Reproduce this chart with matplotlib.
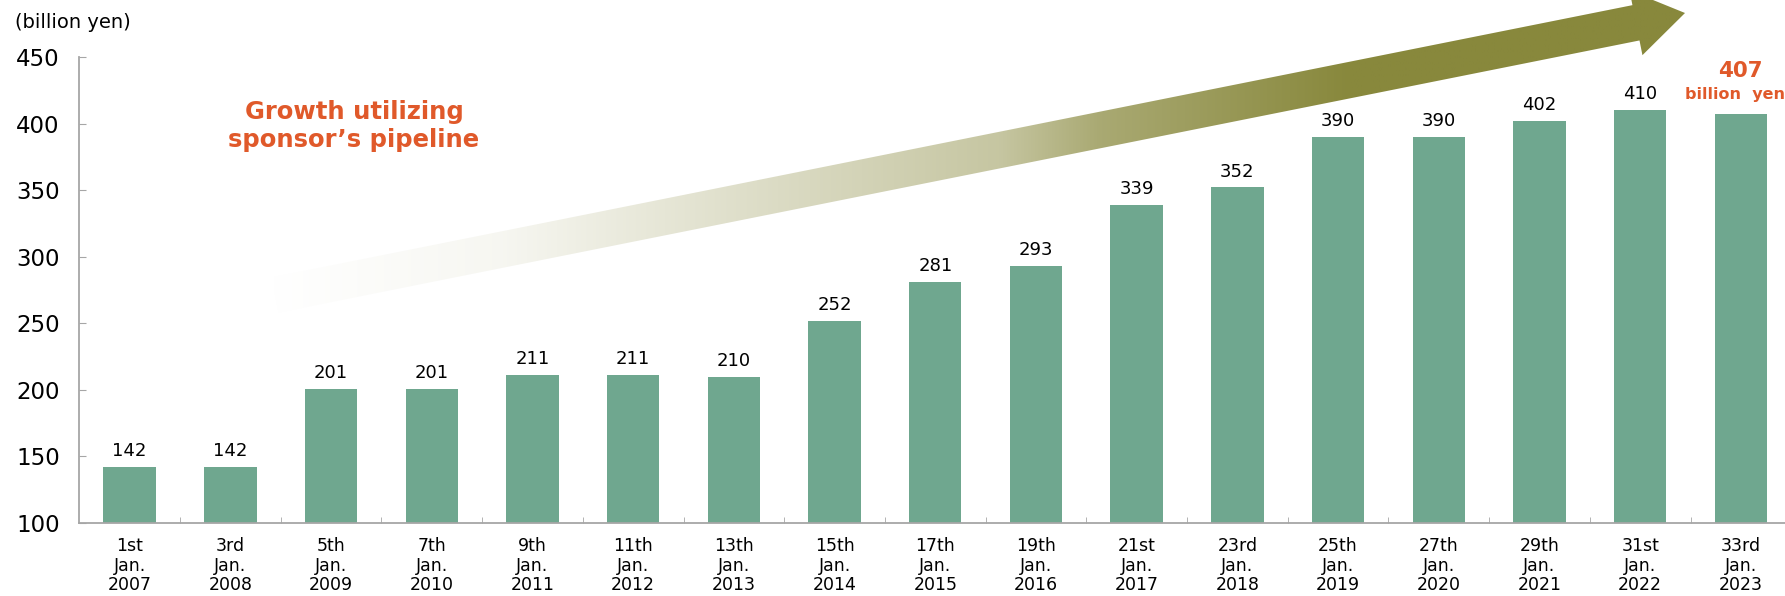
import numpy as np
import matplotlib.pyplot as plt
from matplotlib.patches import Polygon

# data
periods = ["1st", "3rd", "5th", "7th", "9th", "11th", "13th", "15th", "17th",
           "19th", "21st", "23rd", "25th", "27th", "29th", "31st", "33rd"]
years = [2007, 2008, 2009, 2010, 2011, 2012, 2013, 2014, 2015,
         2016, 2017, 2018, 2019, 2020, 2021, 2022, 2023]
assets = [142, 142, 201, 201, 211, 211, 210, 252, 281,
          293, 339, 352, 390, 390, 402, 410, 407]

labels = [f"{p}\nJan.\n{y}" for p, y in zip(periods, years)]

W, H = 1785, 596
BAR = "#6fa78f"
ORANGE = "#e0592a"
GREY = "#a6a6a6"

fig = plt.figure(figsize=(W / 100, H / 100), dpi=100)

# background layer in pixel coords for the gradient arrow
bg = fig.add_axes([0, 0, 1, 1], zorder=0)
bg.set_xlim(0, W)
bg.set_ylim(H, 0)
bg.axis("off")

tail = np.array([275.0, 295.0])
tip = np.array([1685.0, 13.0])
u = (tip - tail) / np.linalg.norm(tip - tail)
n = np.array([-u[1], u[0]])
hw, hh, hl = 18, 33, 50
base = tip - u * hl
poly = [tail + n * hw, base + n * hw, base + n * hh, tip,
        base - n * hh, base - n * hw, tail - n * hw]
arrow = Polygon(poly, closed=True, facecolor="none", edgecolor="none",
                transform=bg.transData)
bg.add_patch(arrow)

# colour ramp along the arrow (white -> olive)
xs = np.linspace(250, 1710, 700)
t = np.interp(xs, [275, 500, 700, 1000, 1100, 1350], [0.0, 0.07, 0.24, 0.48, 0.72, 1.0])
white = np.array([1.0, 1.0, 1.0])
olive = np.array([136, 136, 60]) / 255
img = (white[None, :] * (1 - t[:, None]) + olive[None, :] * t[:, None])[None, :, :]
im = bg.imshow(img, extent=(250, 1710, 360, -30), aspect="auto", interpolation="bilinear")
im.set_clip_path(arrow)

# main chart
ax = fig.add_axes([79.3 / W, 73 / H, (W - 79.3) / W, 466 / H], zorder=1)
ax.patch.set_alpha(0)
x = np.arange(len(assets))
ax.bar(x, assets, width=0.52, color=BAR, zorder=2)

for i, v in enumerate(assets[:-1]):
    ax.annotate(str(v), (i, v), xytext=(0, 5), textcoords="offset points",
                ha="center", va="bottom", fontsize=13)

ax.annotate("billion  yen", (x[-1], assets[-1]), xytext=(-4, 9), textcoords="offset points",
            ha="center", va="bottom", fontsize=11.5, fontweight="bold", color=ORANGE,
            annotation_clip=False)
ax.annotate(str(assets[-1]), (x[-1], assets[-1]), xytext=(0, 24), textcoords="offset points",
            ha="center", va="bottom", fontsize=15.5, fontweight="bold", color=ORANGE,
            annotation_clip=False)

ax.set_ylim(100, 450)
ax.set_xlim(-0.5, -0.5 + (W - 79.3) / 100.7)
ax.set_yticks(range(100, 451, 50))
ax.tick_params(axis="y", direction="in", length=5, color=GREY, labelsize=16.5, pad=14)
ax.set_xticks(x)
ax.set_xticklabels(labels, fontsize=12.5, linespacing=1.12)
ax.tick_params(axis="x", which="major", length=0, pad=10)
ax.set_xticks(np.arange(0.5, len(assets) - 1, 1), minor=True)
ax.tick_params(axis="x", which="minor", direction="in", length=4, color=GREY)

for s in ["top", "right"]:
    ax.spines[s].set_visible(False)
for s in ["left", "bottom"]:
    ax.spines[s].set_color(GREY)
    ax.spines[s].set_linewidth(1.3)

fig.text(15 / W, 1 - 22 / H, "(billion yen)", ha="left", va="center", fontsize=14)
fig.text(354 / W, 1 - 126 / H, "Growth utilizing\nsponsor\u2019s pipeline", ha="center",
         va="center", fontsize=17.5, fontweight="bold", color=ORANGE, linespacing=1.2)

fig.savefig("out.png", dpi=100)
